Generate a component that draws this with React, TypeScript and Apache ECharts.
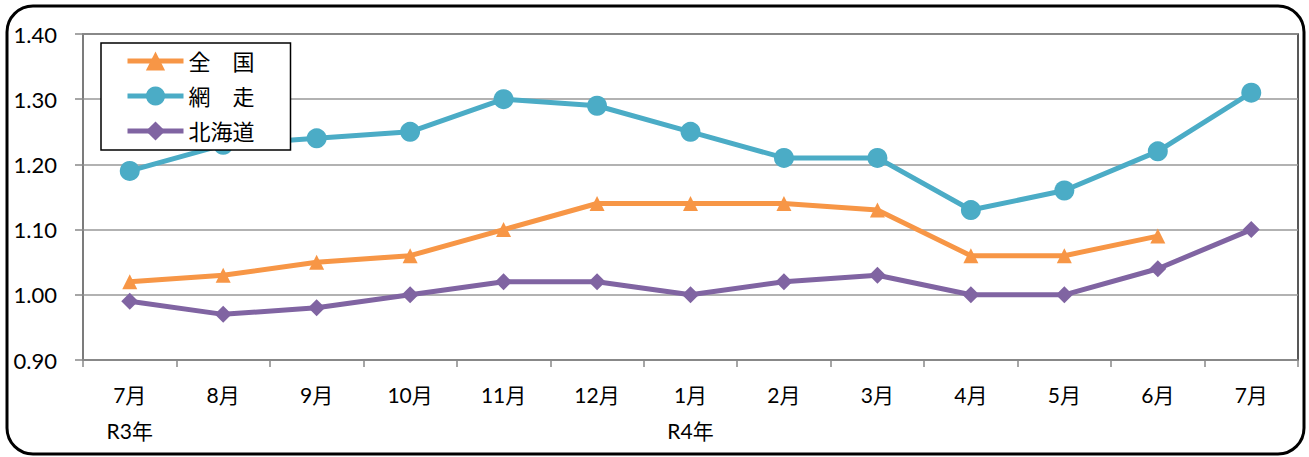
import React, { useEffect, useRef } from "react";
import * as echarts from "echarts";

const categories = ["7月\nR3年", "8月", "9月", "10月", "11月", "12月", "1月\nR4年", "2月", "3月", "4月", "5月", "6月", "7月"];
const zenkoku = [1.02, 1.03, 1.05, 1.06, 1.10, 1.14, 1.14, 1.14, 1.13, 1.06, 1.06, 1.09, null];
const abashiri = [1.19, 1.23, 1.24, 1.25, 1.30, 1.29, 1.25, 1.21, 1.21, 1.13, 1.16, 1.22, 1.31];
const hokkaido = [0.99, 0.97, 0.98, 1.00, 1.02, 1.02, 1.00, 1.02, 1.03, 1.00, 1.00, 1.04, 1.10];
const seriesNames = ["全　国", "網　走", "北海道"];

const FONT = "Lato, 'Noto Sans CJK JP', sans-serif";

export default function App() {
  const ref = useRef<HTMLDivElement>(null);
  useEffect(() => {
    document.body.style.margin = "0";
    if (!ref.current) return;
    const chart = echarts.init(ref.current, null, { renderer: "svg" });
    chart.setOption({
      animation: false,
      backgroundColor: "#fff",
      textStyle: { fontFamily: FONT },
      graphic: [
        {
          type: "rect",
          shape: { x: 7, y: 6, width: 1297, height: 448, r: 26 },
          style: { fill: "none", stroke: "#000", lineWidth: 3 },
          z: 0,
        },
      ],
      grid: {
        left: 83,
        right: 11,
        top: 34,
        bottom: 97,
        show: true,
        borderColor: "#222",
        borderWidth: 1.5,
        containLabel: false,
      },
      legend: {
        orient: "vertical",
        left: 101,
        top: 43,
        padding: [7, 36, 8, 24],
        itemGap: 13,
        itemWidth: 56,
        itemHeight: 24,
        backgroundColor: "#fff",
        borderColor: "#000",
        borderWidth: 1.5,
        lineStyle: { width: 5 },
        textStyle: { fontSize: 22, color: "#000", fontFamily: FONT },
        data: seriesNames,
        z: 10,
      },
      xAxis: {
        type: "category",
        data: categories,
        boundaryGap: true,
        axisLine: { lineStyle: { color: "#888", width: 1.5 } },
        axisTick: { show: true, length: 7, interval: 0, lineStyle: { color: "#888", width: 1.5 } },
        axisLabel: {
          interval: 0,
          fontSize: 21,
          color: "#000",
          margin: 16,
          lineHeight: 36,
          fontFamily: FONT,
        },
      },
      yAxis: {
        type: "value",
        min: 0.9,
        max: 1.4,
        interval: 0.1,
        axisLine: { show: true, lineStyle: { color: "#888", width: 1.5 } },
        axisTick: { show: true, length: 8, lineStyle: { color: "#888", width: 1.5 } },
        splitLine: { lineStyle: { color: "#999", width: 1.5 } },
        axisLabel: {
          fontSize: 22,
          color: "#000",
          margin: 26,
          formatter: (v: number) => v.toFixed(2),
          fontFamily: FONT,
        },
      },
      series: [
        {
          name: seriesNames[0],
          type: "line",
          data: zenkoku,
          symbol: "triangle",
          symbolSize: 15,
          itemStyle: { color: "#F79646" },
          lineStyle: { color: "#F79646", width: 5 },
          z: 3,
        },
        {
          name: seriesNames[1],
          type: "line",
          data: abashiri,
          symbol: "circle",
          symbolSize: 20,
          itemStyle: { color: "#4BACC6" },
          lineStyle: { color: "#4BACC6", width: 5 },
          z: 3,
        },
        {
          name: seriesNames[2],
          type: "line",
          data: hokkaido,
          symbol: "diamond",
          symbolSize: 17,
          itemStyle: { color: "#8064A2" },
          lineStyle: { color: "#8064A2", width: 5 },
          z: 3,
        },
      ],
    });
    return () => chart.dispose();
  }, []);
  return <div ref={ref} style={{ width: 1309, height: 457 }} />;
}
